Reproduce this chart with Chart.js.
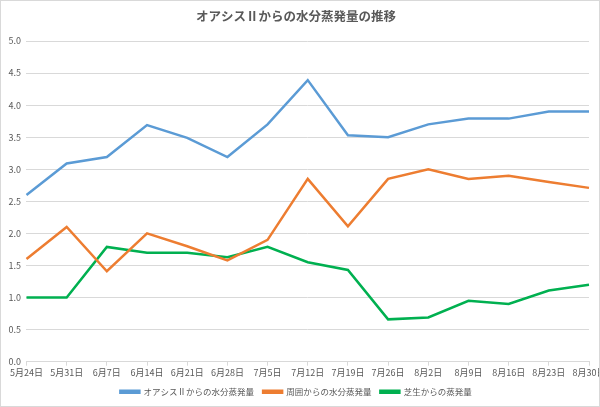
<!DOCTYPE html>
<html>
<head>
<meta charset="utf-8">
<script src="https://cdn.jsdelivr.net/npm/chart.js@4"></script>
<style>
  body { margin: 0; background: #fff; }
  #wrap { width: 600px; height: 407px; box-sizing: border-box; border: 1px solid #D9D9D9; }
</style>
</head>
<body>
<div id="wrap"><canvas id="chart" width="598" height="405"></canvas></div>
<script>
// data
const dates = ["5月24日", "5月31日", "6月7日", "6月14日", "6月21日", "6月28日", "7月5日",
               "7月12日", "7月19日", "7月26日", "8月2日", "8月9日", "8月16日", "8月23日", "8月30日"];
const oasis = [2.6, 3.09, 3.19, 3.69, 3.49, 3.19, 3.7, 4.39, 3.53, 3.5, 3.7, 3.79, 3.79, 3.9, 3.9];
const surround = [1.6, 2.1, 1.41, 2.0, 1.8, 1.58, 1.9, 2.85, 2.11, 2.85, 3.0, 2.85, 2.9, 2.8, 2.71];
const lawn = [1.0, 1.0, 1.79, 1.7, 1.7, 1.63, 1.79, 1.55, 1.43, 0.66, 0.69, 0.95, 0.9, 1.11, 1.2];

const FONT = "'Noto Sans CJK JP', 'Noto Sans', sans-serif";
const GREY = "#595959";

function series(label, values, color) {
    return {
        label,
        data: values,
        borderColor: color,
        backgroundColor: color,
        borderWidth: 2.5,
        pointRadius: 0,
        tension: 0
    };
}

new Chart(document.getElementById("chart"), {
    type: "line",
    data: {
        labels: dates,
        datasets: [
            series("オアシスⅡからの水分蒸発量", oasis, "#5B9BD5"),
            series("周囲からの水分蒸発量", surround, "#ED7D31"),
            series("芝生からの蒸発量", lawn, "#00B050")
        ]
    },
    options: {
        responsive: false,
        animation: false,
        layout: { padding: { left: 2, right: 10, top: 6, bottom: 0 } },
        plugins: {
            title: {
                display: true,
                text: "オアシスⅡからの水分蒸発量の推移",
                color: GREY,
                font: { family: FONT, size: 12.5, weight: "bold" },
                padding: { top: 2, bottom: 17 }
            },
            legend: {
                position: "bottom",
                labels: {
                    color: GREY,
                    font: { family: FONT, size: 8.5 },
                    boxWidth: 19,
                    boxHeight: 2,
                    padding: 9
                }
            },
            tooltip: { enabled: false }
        },
        scales: {
            x: {
                offset: false,
                grid: { drawOnChartArea: false, drawTicks: true, tickLength: 4, color: "#D9D9D9" },
                border: { color: "#D9D9D9" },
                ticks: {
                    color: GREY,
                    font: { family: FONT, size: 9 },
                    maxRotation: 0,
                    autoSkip: false,
                    padding: 1
                },
                afterFit: s => { s.paddingLeft = 0; s.paddingRight = 0; }
            },
            y: {
                min: 0,
                max: 5,
                grid: { color: "#D9D9D9", drawTicks: false },
                border: { display: false },
                ticks: {
                    stepSize: 0.5,
                    color: GREY,
                    font: { family: FONT, size: 9 },
                    padding: 5.5,
                    callback: v => v.toFixed(1)
                }
            }
        }
    }
});
</script>
</body>
</html>
